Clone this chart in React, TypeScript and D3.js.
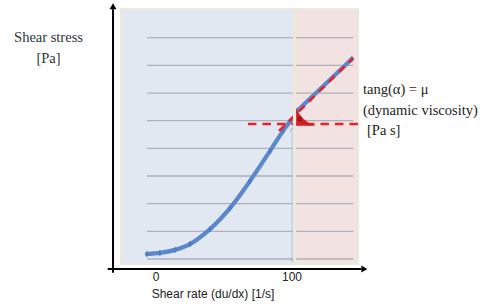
import React, { useEffect, useRef } from 'react';
import * as d3 from 'd3';

// shear stress curve (thixotropic part)
const curveRate = [-6.6, 2.9, 14, 25, 39.7, 54.4, 69.1, 83.8, 93.4, 99.3];
const curveStress = [0.18, 0.22, 0.33, 0.54, 1.08, 1.84, 2.82, 3.9, 4.63, 5.02];
// linear (newtonian) part after 100 1/s
const lineRate = [103.7, 144];
const lineStress = [5.35, 7.23];
// tangent line + horizontal reference
const tangentRate = [90.4, 144.9];
const tangentStress = [4.63, 7.26];
const refStress = 4.88;
const refRate = [67.6, 152];

const gridStress = [0, 1, 2, 3, 4, 5, 6, 7, 8];
const tickRates = [0, 100];
const explain = ['tang(\u03b1) = \u03bc', '(dynamic viscosity)', '[Pa s]'];

const SERIF = '"Liberation Serif", "Times New Roman", Times, serif';
const SANS = '"Liberation Sans", Arial, Helvetica, sans-serif';

const App = () => {
  const svgRef = useRef<SVGSVGElement>(null);
  const width = 489;
  const height = 304;

  useEffect(() => {
    const svg = d3.select(svgRef.current);
    svg.selectAll('*').remove();

    const x = d3.scaleLinear().domain([0, 100]).range([156, 292]);
    const y = d3.scaleLinear().domain([0, 8]).range([259, 37.7]);

    // backgrounds
    svg.append('rect')
      .attr('x', x(-26.5)).attr('y', y(9.07))
      .attr('width', x(149.3) - x(-26.5)).attr('height', y(-0.22) - y(9.07))
      .attr('fill', '#ECE9DC');
    svg.append('rect')
      .attr('x', x(-25)).attr('y', y(9.0))
      .attr('width', x(100.7) - x(-25)).attr('height', y(-0.15) - y(9.0))
      .attr('fill', '#E2E8F2');
    svg.append('rect')
      .attr('x', x(103)).attr('y', y(9.0))
      .attr('width', x(147.8) - x(103)).attr('height', y(-0.08) - y(9.0))
      .attr('fill', '#F3E2E2');

    // grid
    svg.selectAll('line.grid')
      .data(gridStress)
      .enter().append('line')
      .attr('class', 'grid')
      .attr('x1', x(-6.6)).attr('x2', x(145))
      .attr('y1', d => y(d)).attr('y2', d => y(d))
      .attr('stroke', '#AEAFB9')
      .attr('stroke-width', 1.3);

    // vertical double arrow at 100
    const blueArrow = '#A3B9DE';
    svg.append('line')
      .attr('x1', x(100)).attr('x2', x(100))
      .attr('y1', y(4.75)).attr('y2', y(-0.1))
      .attr('stroke', blueArrow).attr('stroke-width', 0.8);
    svg.append('path')
      .attr('d', `M${x(100) - 2},${y(4.6)} L${x(100)},${y(4.75)} L${x(100) + 2},${y(4.6)}`)
      .attr('fill', 'none').attr('stroke', blueArrow).attr('stroke-width', 0.8);
    svg.append('path')
      .attr('d', `M${x(100) - 2},${y(0.05)} L${x(100)},${y(-0.1)} L${x(100) + 2},${y(0.05)}`)
      .attr('fill', 'none').attr('stroke', blueArrow).attr('stroke-width', 0.8);

    const curve = curveRate.map((r, i) => [r, curveStress[i]] as [number, number]);
    const lin = lineRate.map((r, i) => [r, lineStress[i]] as [number, number]);
    const line = d3.line<[number, number]>()
      .x(d => x(d[0])).y(d => y(d[1]))
      .curve(d3.curveCatmullRom);

    const blue = '#5B88CC';
    [curve, lin].forEach(pts => {
      svg.append('path')
        .attr('d', line(pts))
        .attr('fill', 'none')
        .attr('stroke', blue)
        .attr('stroke-width', 4.2)
        .attr('stroke-linecap', 'round');
    });
    const sym = d3.symbol().type(d3.symbolDiamond).size(14);
    svg.selectAll('path.mark')
      .data(curve.concat(lin))
      .enter().append('path')
      .attr('class', 'mark')
      .attr('d', sym)
      .attr('transform', d => `translate(${x(d[0])},${y(d[1])})`)
      .attr('fill', '#4F7DC4');

    // tangent line
    const red = '#E5232B';
    svg.append('path')
      .attr('d', d3.line<[number, number]>().x(d => x(d[0])).y(d => y(d[1]))(
        tangentRate.map((r, i) => [r, tangentStress[i]] as [number, number])))
      .attr('fill', 'none')
      .attr('stroke', red)
      .attr('stroke-width', 2.6)
      .attr('stroke-dasharray', '8 6');

    // horizontal reference
    svg.append('line')
      .attr('x1', x(refRate[0])).attr('x2', x(refRate[1]))
      .attr('y1', y(refStress)).attr('y2', y(refStress))
      .attr('stroke', red)
      .attr('stroke-width', 2.6)
      .attr('stroke-dasharray', '8.5 6');

    // angle marker
    const ax0 = x(103), ay0 = y(refStress - 0.06), ayT = y(5.45), axR = x(117);
    svg.append('path')
      .attr('d', `M${ax0},${ay0} L${ax0},${ayT} Q${ax0 + 6},${ay0 - 4} ${axR},${ay0} Z`)
      .attr('fill', '#D61E22');
    svg.append('text')
      .attr('x', ax0 + 1.5).attr('y', y(5.0))
      .style('font-family', SERIF)
      .style('font-size', '8px')
      .attr('fill', '#3A1010')
      .text('\u03b1');

    // stripe between the regions
    svg.append('rect')
      .attr('x', x(100.7)).attr('y', y(9.0))
      .attr('width', x(103) - x(100.7)).attr('height', y(-0.15) - y(9.0))
      .attr('fill', '#ECE9DC');

    // axes
    const axisY = y(-0.36);
    const axisX = x(-31.6);
    svg.append('line')
      .attr('x1', x(-35.5)).attr('x2', x(151)).attr('y1', axisY).attr('y2', axisY)
      .attr('stroke', '#000').attr('stroke-width', 2);
    svg.append('path')
      .attr('d', `M${x(151)},${axisY - 3.5} L${x(151) + 6},${axisY} L${x(151)},${axisY + 3.5} Z`)
      .attr('fill', '#000');
    svg.append('line')
      .attr('x1', axisX).attr('x2', axisX).attr('y1', y(-0.5)).attr('y2', y(9.03))
      .attr('stroke', '#000').attr('stroke-width', 2);
    svg.append('path')
      .attr('d', `M${axisX - 3.5},${y(9.03)} L${axisX},${y(9.03) - 6} L${axisX + 3.5},${y(9.03)} Z`)
      .attr('fill', '#000');

    svg.selectAll('text.tick')
      .data(tickRates)
      .enter().append('text')
      .attr('class', 'tick')
      .attr('x', d => x(d)).attr('y', 281)
      .attr('text-anchor', 'middle')
      .style('font-family', SANS)
      .style('font-size', '12px')
      .attr('fill', '#222')
      .text(d => d);

    svg.append('text')
      .attr('x', 213).attr('y', 298)
      .attr('text-anchor', 'middle')
      .style('font-family', SANS)
      .style('font-size', '12px')
      .attr('fill', '#222')
      .text('Shear rate (du/dx) [1/s]');

    svg.append('text')
      .attr('x', 48.5).attr('y', 42)
      .attr('text-anchor', 'middle')
      .style('font-family', SERIF)
      .style('font-size', '14.5px')
      .attr('fill', '#2E3440')
      .text('Shear stress');
    svg.append('text')
      .attr('x', 48.5).attr('y', 63)
      .attr('text-anchor', 'middle')
      .style('font-family', SERIF)
      .style('font-size', '14.5px')
      .attr('fill', '#2E3440')
      .text('[Pa]');

    svg.selectAll('text.explain')
      .data(explain)
      .enter().append('text')
      .attr('class', 'explain')
      .attr('x', (d, i) => (i === 2 ? 367 : 363))
      .attr('y', (d, i) => 94 + i * 20.5)
      .style('font-family', SERIF)
      .style('font-size', '14.5px')
      .attr('fill', '#222')
      .text(d => d);
  }, []);

  return (
    <svg ref={svgRef} width={width} height={height}
      style={{ position: 'absolute', left: 0, top: 0, background: '#fff' }} />
  );
};

export default App;
